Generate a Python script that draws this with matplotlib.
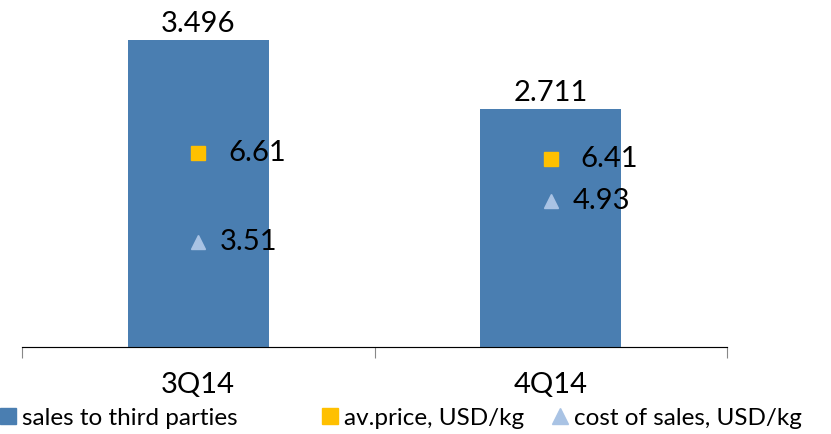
import matplotlib.pyplot as plt
from matplotlib.lines import Line2D

# Chart data
quarters = ['3Q14', '4Q14']
sales = [3.496, 2.711]
av_price = [6.61, 6.41]
cost_of_sales = [3.51, 4.93]

bar_color = '#4A7EB1'
price_color = '#FFC000'
cost_color = '#A9C3E4'

plt.rcParams['font.family'] = ['Lato', 'DejaVu Sans']

fig = plt.figure(figsize=(8.31, 4.34), dpi=100)
ax = fig.add_axes([22 / 831, 87 / 434, 705 / 831, 347 / 434])
x = list(range(len(quarters)))

ax.bar(x, sales, width=0.4, color=bar_color, zorder=2)
ax.set_xlim(-0.5, 1.5)
ax.set_ylim(0, 3.957)
for xi, v in zip(x, sales):
    ax.annotate(f'{v:.3f}', (xi, v), xytext=(0, 3), textcoords='offset pixels',
                ha='center', va='bottom', fontsize=21)

# secondary axis for prices
ax2 = ax.twinx()
ax2.set_ylim(-0.15, 11.94)
ax2.plot(x, av_price, linestyle='none', marker='s', markersize=10,
         color=price_color, zorder=3)
ax2.plot(x, cost_of_sales, linestyle='none', marker='^', markersize=10,
         color=cost_color, zorder=3)
for xi, v in zip(x, av_price):
    ax2.annotate(f'{v:.2f}', (xi, v), xytext=(30, 0), textcoords='offset pixels',
                 ha='left', va='center', fontsize=21)
for xi, v in zip(x, cost_of_sales):
    ax2.annotate(f'{v:.2f}', (xi, v), xytext=(22, 0), textcoords='offset pixels',
                 ha='left', va='center', fontsize=21)

for a in (ax, ax2):
    for side in ('top', 'right', 'left'):
        a.spines[side].set_visible(False)
    a.set_yticks([])
ax.spines['bottom'].set_color('#888888')

# category ticks at group boundaries
ax.set_xticks([-0.5, 0.5, 1.5])
ax.set_xticklabels([])
ax.tick_params(axis='x', length=8, color='#888888')
for xi, q in zip(x, quarters):
    ax.text(xi, -38 / 87.7, q, ha='center', va='center', fontsize=21)

# legend entries placed one by one, like the original layout
handles = [
    Line2D([], [], linestyle='none', marker='s', markersize=11, color=bar_color),
    Line2D([], [], linestyle='none', marker='s', markersize=11, color=price_color),
    Line2D([], [], linestyle='none', marker='^', markersize=11, color=cost_color),
]
labels = ['sales to third parties', 'av.price, USD/kg', 'cost of sales, USD/kg']
legend_x = [1, 323, 553]
for h, lab, lx in zip(handles, labels, legend_x):
    fig.legend([h], [lab], loc='center left', bbox_to_anchor=(lx / 831, 16 / 434),
               frameon=False, fontsize=17.5, handlelength=0.6,
               handletextpad=0.25, borderaxespad=0, borderpad=0)

fig.savefig('out.png', dpi=100)
